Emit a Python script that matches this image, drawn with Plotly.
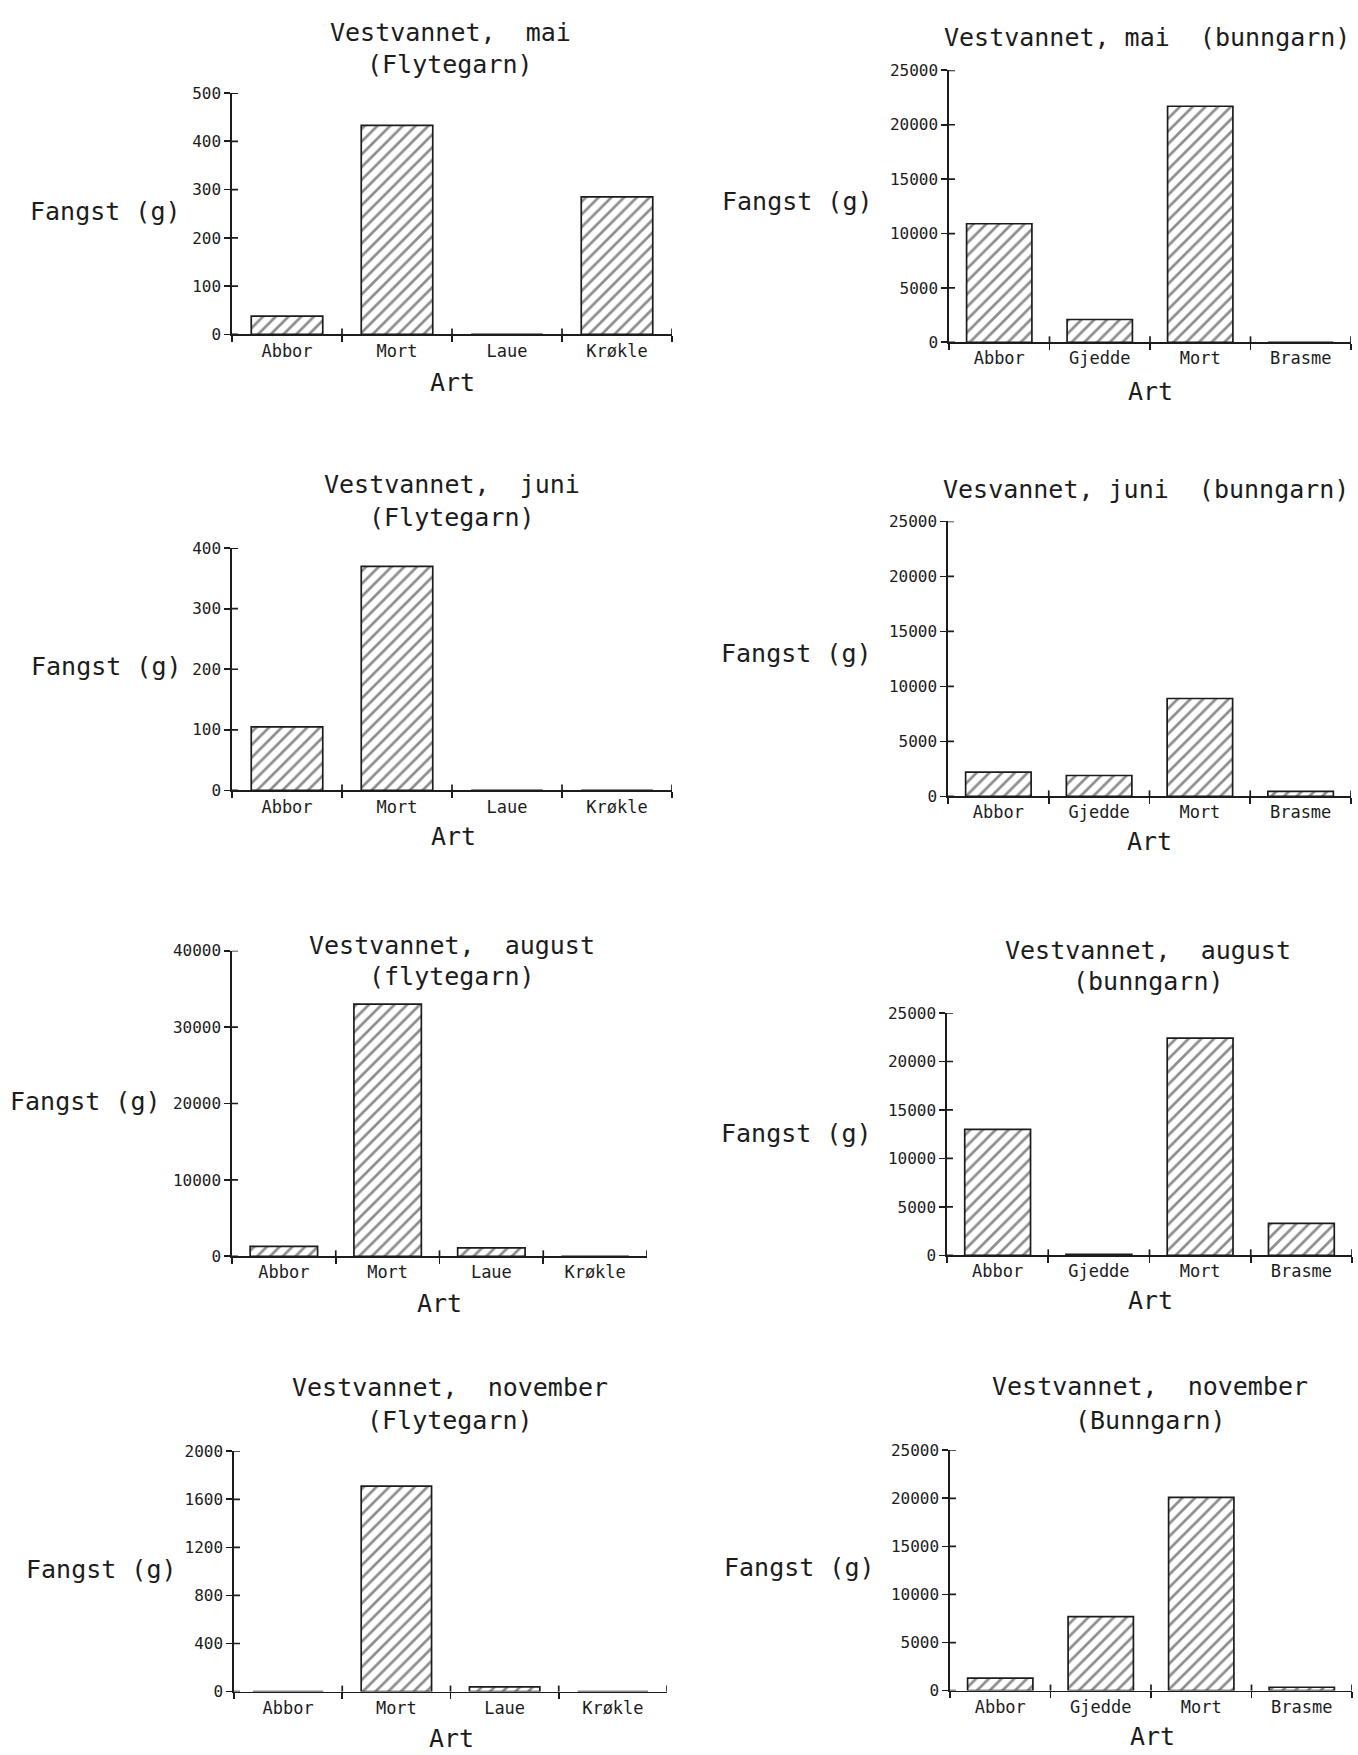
import plotly.graph_objects as go

# ---------------- data ----------------
flyte_categories = ["Abbor", "Mort", "Laue", "Krøkle"]
bunn_categories = ["Abbor", "Gjedde", "Mort", "Brasme"]

mai_flytegarn = [38, 433, 0, 285]
mai_bunngarn = [10900, 2100, 21700, 0]
juni_flytegarn = [105, 370, 0, 0]
juni_bunngarn = [2200, 1900, 8900, 450]
august_flytegarn = [1300, 33000, 1100, 0]
august_bunngarn = [13000, 100, 22400, 3300]
november_flytegarn = [0, 1710, 40, 0]
november_bunngarn = [1300, 7700, 20100, 350]

panel_titles = [
    ["Vestvannet,  mai", "(Flytegarn)"],
    ["Vestvannet, mai  (bunngarn)"],
    ["Vestvannet,  juni", "(Flytegarn)"],
    ["Vesvannet, juni  (bunngarn)"],
    ["Vestvannet,  august", "(flytegarn)"],
    ["Vestvannet,  august", "(bunngarn)"],
    ["Vestvannet,  november", "(Flytegarn)"],
    ["Vestvannet,  november", "(Bunngarn)"],
]
y_max = [500, 25000, 400, 25000, 40000, 25000, 2000, 25000]
y_step = [100, 5000, 100, 5000, 10000, 5000, 400, 5000]
y_label = "Fangst (g)"
x_label = "Art"

series = [
    (flyte_categories, mai_flytegarn),
    (bunn_categories, mai_bunngarn),
    (flyte_categories, juni_flytegarn),
    (bunn_categories, juni_bunngarn),
    (flyte_categories, august_flytegarn),
    (bunn_categories, august_bunngarn),
    (flyte_categories, november_flytegarn),
    (bunn_categories, november_bunngarn),
]

# ---------------- layout (pixels) ----------------
W, H = 1358, 1755
# (left, right, top, bottom) of each plotting box
boxes = [(232, 672, 85, 329), (949, 1351, 62, 337),
         (232, 672, 545, 790), (948, 1351, 518, 796),
         (232, 647, 952, 1261), (947, 1352, 1015, 1260),
         (234, 667, 1458, 1701), (950, 1352, 1457, 1700)]
title_pos = [(450, [24, 56]), (1147, [29]), (452, [481, 514]), (1146, [486]),
             (452, [947, 978]), (1148, [952, 983]), (450, [1394, 1427]), (1150, [1393, 1427])]
ylab_pos = [(105, 205), (797, 195), (106, 665), (796, 652),
            (85, 1104), (796, 1137), (101, 1578), (799, 1576)]
xlab_pos = [(452, 378), (1150, 387), (453, 837), (1149, 842),
            (439, 1309), (1150, 1306), (451, 1748), (1152, 1746)]

FONT = "DejaVu Sans Mono"
INK = "#1c1c1c"
LW = 1.7

fig = go.Figure()
layout = dict(
    width=W, height=H, margin=dict(l=0, r=0, t=0, b=0),
    paper_bgcolor="white", plot_bgcolor="white", showlegend=False,
    font=dict(family=FONT, color=INK),
)
annotations = []
shapes = []


def px(x):
    return x / W


def py(y):
    return 1 - y / H


for i, (cats, vals) in enumerate(series):
    n = i + 1
    xa = "x" if n == 1 else f"x{n}"
    ya = "y" if n == 1 else f"y{n}"
    fig.add_trace(go.Bar(
        x=cats, y=vals, xaxis=xa, yaxis=ya, width=0.65,
        marker=dict(color="white",
                    line=dict(color=INK, width=LW),
                    pattern=dict(shape="/", fgcolor=INK, bgcolor="white",
                                 size=9, solidity=0.3)),
    ))
    l, r, t, b = boxes[i]
    xkey = "xaxis" if n == 1 else f"xaxis{n}"
    ykey = "yaxis" if n == 1 else f"yaxis{n}"
    layout[xkey] = dict(
        domain=[px(l), px(r)], anchor=ya, type="category",
        range=[-0.5, len(cats) - 0.5], showline=True, linecolor=INK, linewidth=LW,
        showgrid=False, zeroline=False, ticks="outside", tickson="boundaries",
        ticklen=6, tickcolor=INK, tickwidth=LW,
        tickfont=dict(family=FONT, size=17, color=INK),
    )
    layout[ykey] = dict(
        domain=[py(b), py(t)], anchor=xa, range=[0, y_max[i]],
        tick0=0, dtick=y_step[i], tickformat="d",
        showline=True, linecolor=INK, linewidth=LW,
        showgrid=False, zeroline=False, ticks="outside", ticklen=6,
        tickcolor=INK, tickwidth=LW,
        tickfont=dict(family=FONT, size=16, color=INK),
    )
    # inner halves of the "+" shaped tick marks
    v = 0
    while v <= y_max[i]:
        shapes.append(dict(type="line", xref=f"{xa} domain", yref=ya,
                           xsizemode="pixel", xanchor=0, x0=0, x1=6,
                           y0=v, y1=v, line=dict(color=INK, width=LW)))
        v += y_step[i]
    for k in range(1, len(cats) + 1):
        shapes.append(dict(type="line", xref=xa, yref=f"{ya} domain",
                           ysizemode="pixel", yanchor=0, y0=0, y1=6,
                           x0=k - 0.5, x1=k - 0.5, line=dict(color=INK, width=LW)))

    tx, tys = title_pos[i]
    for line, ty in zip(panel_titles[i], tys):
        annotations.append(dict(
            text=line.replace(" ", "\u00a0"), x=px(tx), y=py(ty),
            xref="paper", yref="paper", xanchor="center", yanchor="middle",
            showarrow=False, font=dict(family=FONT, size=25, color=INK)))
    lx, ly = ylab_pos[i]
    annotations.append(dict(
        text=y_label.replace(" ", "\u00a0"), x=px(lx), y=py(ly),
        xref="paper", yref="paper", xanchor="center", yanchor="middle",
        showarrow=False, font=dict(family=FONT, size=25, color=INK)))
    ax_, ay_ = xlab_pos[i]
    annotations.append(dict(
        text=x_label, x=px(ax_), y=py(ay_),
        xref="paper", yref="paper", xanchor="center", yanchor="middle",
        showarrow=False, font=dict(family=FONT, size=25, color=INK)))

layout["annotations"] = annotations
layout["shapes"] = shapes
fig.update_layout(**layout)
fig.write_html(
    "out.html",
    config={"displayModeBar": False, "staticPlot": True},
    post_script="document.body.style.margin='0';document.body.style.overflow='hidden';",
)
